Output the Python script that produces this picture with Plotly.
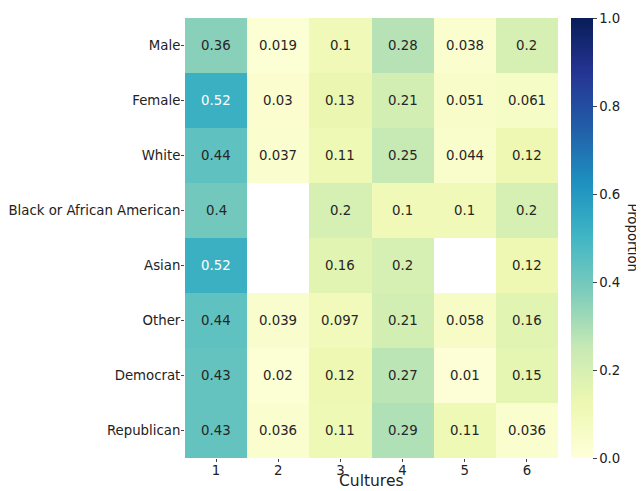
import plotly.graph_objects as go

rows = ["Male", "Female", "White", "Black or African American", "Asian", "Other", "Democrat", "Republican"]
cultures = [1, 2, 3, 4, 5, 6]

male = [0.36, 0.019, 0.1, 0.28, 0.038, 0.2]
female = [0.52, 0.03, 0.13, 0.21, 0.051, 0.061]
white = [0.44, 0.037, 0.11, 0.25, 0.044, 0.12]
black = [0.4, None, 0.2, 0.1, 0.1, 0.2]
asian = [0.52, None, 0.16, 0.2, None, 0.12]
other = [0.44, 0.039, 0.097, 0.21, 0.058, 0.16]
democrat = [0.43, 0.02, 0.12, 0.27, 0.01, 0.15]
republican = [0.43, 0.036, 0.11, 0.29, 0.11, 0.036]

z = [male, female, white, black, asian, other, democrat, republican]

ylgnbu = ["rgb(255,255,217)", "rgb(237,248,177)", "rgb(199,233,180)", "rgb(127,205,187)",
          "rgb(65,182,196)", "rgb(29,145,192)", "rgb(34,94,168)", "rgb(37,52,148)", "rgb(8,29,88)"]
colorscale = [[i / (len(ylgnbu) - 1), c] for i, c in enumerate(ylgnbu)]

font = "DejaVu Sans"
fs = 13.3

fig = go.Figure(go.Heatmap(
    z=z, x=cultures, y=rows, zmin=0, zmax=1, colorscale=colorscale,
    hoverongaps=False,
    colorbar=dict(
        thickness=22, len=1, lenmode="fraction", y=0.5, yanchor="middle",
        x=1.035, xanchor="left", xpad=0, ypad=0, outlinewidth=0,
        tickvals=[0, 0.2, 0.4, 0.6, 0.8, 1.0], tickformat=".1f",
        ticks="outside", ticklen=4, tickcolor="#444", tickfont=dict(family=font, size=fs, color="#222"),
    ),
))

annotations = []
for r, row in zip(rows, z):
    for c, v in zip(cultures, row):
        if v is None:
            continue
        annotations.append(dict(
            x=c, y=r, xref="x", yref="y", text=f"{v:.2g}", showarrow=False,
            font=dict(family=font, size=fs, color="white" if v > 0.5 else "#262626"),
        ))
annotations.append(dict(
    xref="paper", yref="paper", x=1.2, y=0.5, text="Proportion", textangle=90,
    showarrow=False, xanchor="center", yanchor="middle",
    font=dict(family=font, size=fs, color="#222"),
))
annotations.append(dict(
    xref="paper", yref="paper", x=0.5, y=-0.075, text="Cultures",
    showarrow=False, xanchor="center", yanchor="bottom", borderpad=0,
    font=dict(family=font, size=15.5, color="#222"),
))

# page body has an 8px default margin, so shift the figure up/left by 8px
fig.update_layout(
    width=636, height=483,
    margin=dict(l=177, r=86, t=10, b=33, autoexpand=False),
    paper_bgcolor="white", plot_bgcolor="white",
    annotations=annotations,
    xaxis=dict(type="linear", tickvals=cultures, ticktext=[str(c) for c in cultures],
               tickfont=dict(family=font, size=fs, color="#222"), ticks="outside", ticklen=3,
               ticklabelstandoff=-3,
               tickcolor="#444", showgrid=False, zeroline=False),
    yaxis=dict(autorange="reversed", type="category", tickfont=dict(family=font, size=fs, color="#222"),
               ticks="outside", ticklen=3, ticklabelstandoff=-2,
               tickcolor="#444", showgrid=False, zeroline=False),
)

fig.write_html("out.html")
